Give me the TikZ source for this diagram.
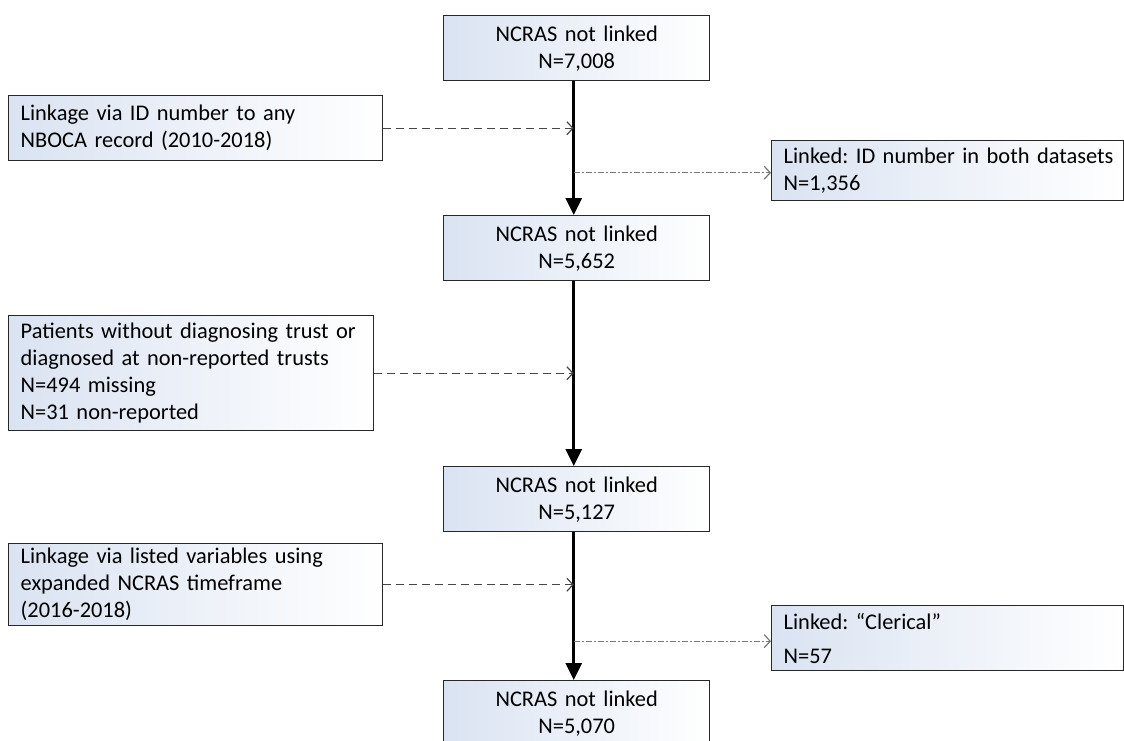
\documentclass[tikz,border=0pt]{standalone}
\usepackage{fontspec}
\setmainfont{Carlito}
\usetikzlibrary{arrows.meta}
\definecolor{boxblue}{RGB}{218,227,242}
\definecolor{edge}{RGB}{40,40,40}
\tikzset{
  base/.style={draw=edge, line width=1.4pt, left color=boxblue, right color=white, anchor=north west,
    font=\fontsize{22.4}{27}\selectfont\frenchspacing, inner sep=0pt},
  midbox/.style={base, minimum width=266pt, minimum height=65pt, align=center, text width=250pt},
  sidebox/.style={base, align=left, inner xsep=12pt},
  mainarrow/.style={line width=3pt, -{Triangle[length=17pt,width=16pt]}},
  dasharrow/.style={draw={rgb,255:red,70;green,70;blue,70}, line width=1.2pt, dash pattern=on 8pt off 5pt,
    -{Straight Barb[length=6pt,width=13pt,line width=1.2pt]}},
  dotarrow/.style={draw={rgb,255:red,120;green,120;blue,120}, line width=1.2pt, dash pattern=on 6pt off 2pt on 2pt off 2pt,
    -{Straight Barb[length=6pt,width=13pt,line width=1.2pt]}}
}
\begin{document}
\begin{tikzpicture}[x=1pt,y=-1pt]
\useasboundingbox (0,0) rectangle (1124,740);
\clip (0,0) rectangle (1124,740);
\node[midbox] (b1) at (443,15) {NCRAS not linked\\N=7,008};
\node[midbox] (b2) at (443,215) {NCRAS not linked\\N=5,652};
\node[midbox] (b3) at (443,466) {NCRAS not linked\\N=5,127};
\node[midbox] (b4) at (443,680) {NCRAS not linked\\N=5,070};
\node[sidebox, minimum width=374pt, minimum height=65pt, text width=350pt] (l1) at (8,95)
  {Linkage via ID number to any\\NBOCA record (2010-2018)};
\node[sidebox, minimum width=365pt, minimum height=115pt, text width=341pt] (l2) at (8,315)
  {Patients without diagnosing trust or\\diagnosed at non-reported trusts\\N=494 missing\\N=31 non-reported};
\node[sidebox, minimum width=374pt, minimum height=82pt, text width=350pt] (l3) at (8,543)
  {Linkage via listed variables using\\expanded NCRAS timeframe\\(2016-2018)};
\node[sidebox, minimum width=352pt, minimum height=60pt, text width=328pt] (r1) at (771,140)
  {\mbox{Linked: ID number in both datasets}\\N=1,356};
\node[sidebox, minimum width=352pt, minimum height=65pt, text width=328pt] (r2) at (771,605)
  {Linked: “Clerical”\\[7pt]N=57};
\coordinate (s1) at ([xshift=-3pt]b1.south);
\coordinate (s2) at ([xshift=-3pt]b2.north);
\coordinate (s3) at ([xshift=-3pt]b2.south);
\coordinate (s4) at ([xshift=-3pt]b3.north);
\coordinate (s5) at ([xshift=-3pt]b3.south);
\coordinate (s6) at ([xshift=-3pt]b4.north);
\draw[mainarrow] (s1) -- (s2);
\draw[mainarrow] (s3) -- (s4);
\draw[mainarrow] (s5) -- (s6);
\draw[dasharrow] (l1.east) -- (l1.east -| s1);
\draw[dotarrow] ([yshift=-2pt]r1.west -| s1) -- ([yshift=-2pt]r1.west);
\draw[dasharrow] (l2.east) -- (l2.east -| s3);
\draw[dasharrow] (l3.east) -- (l3.east -| s5);
\draw[dotarrow] ([yshift=-3pt]r2.west -| s5) -- ([yshift=-3pt]r2.west);
\end{tikzpicture}
\end{document}
